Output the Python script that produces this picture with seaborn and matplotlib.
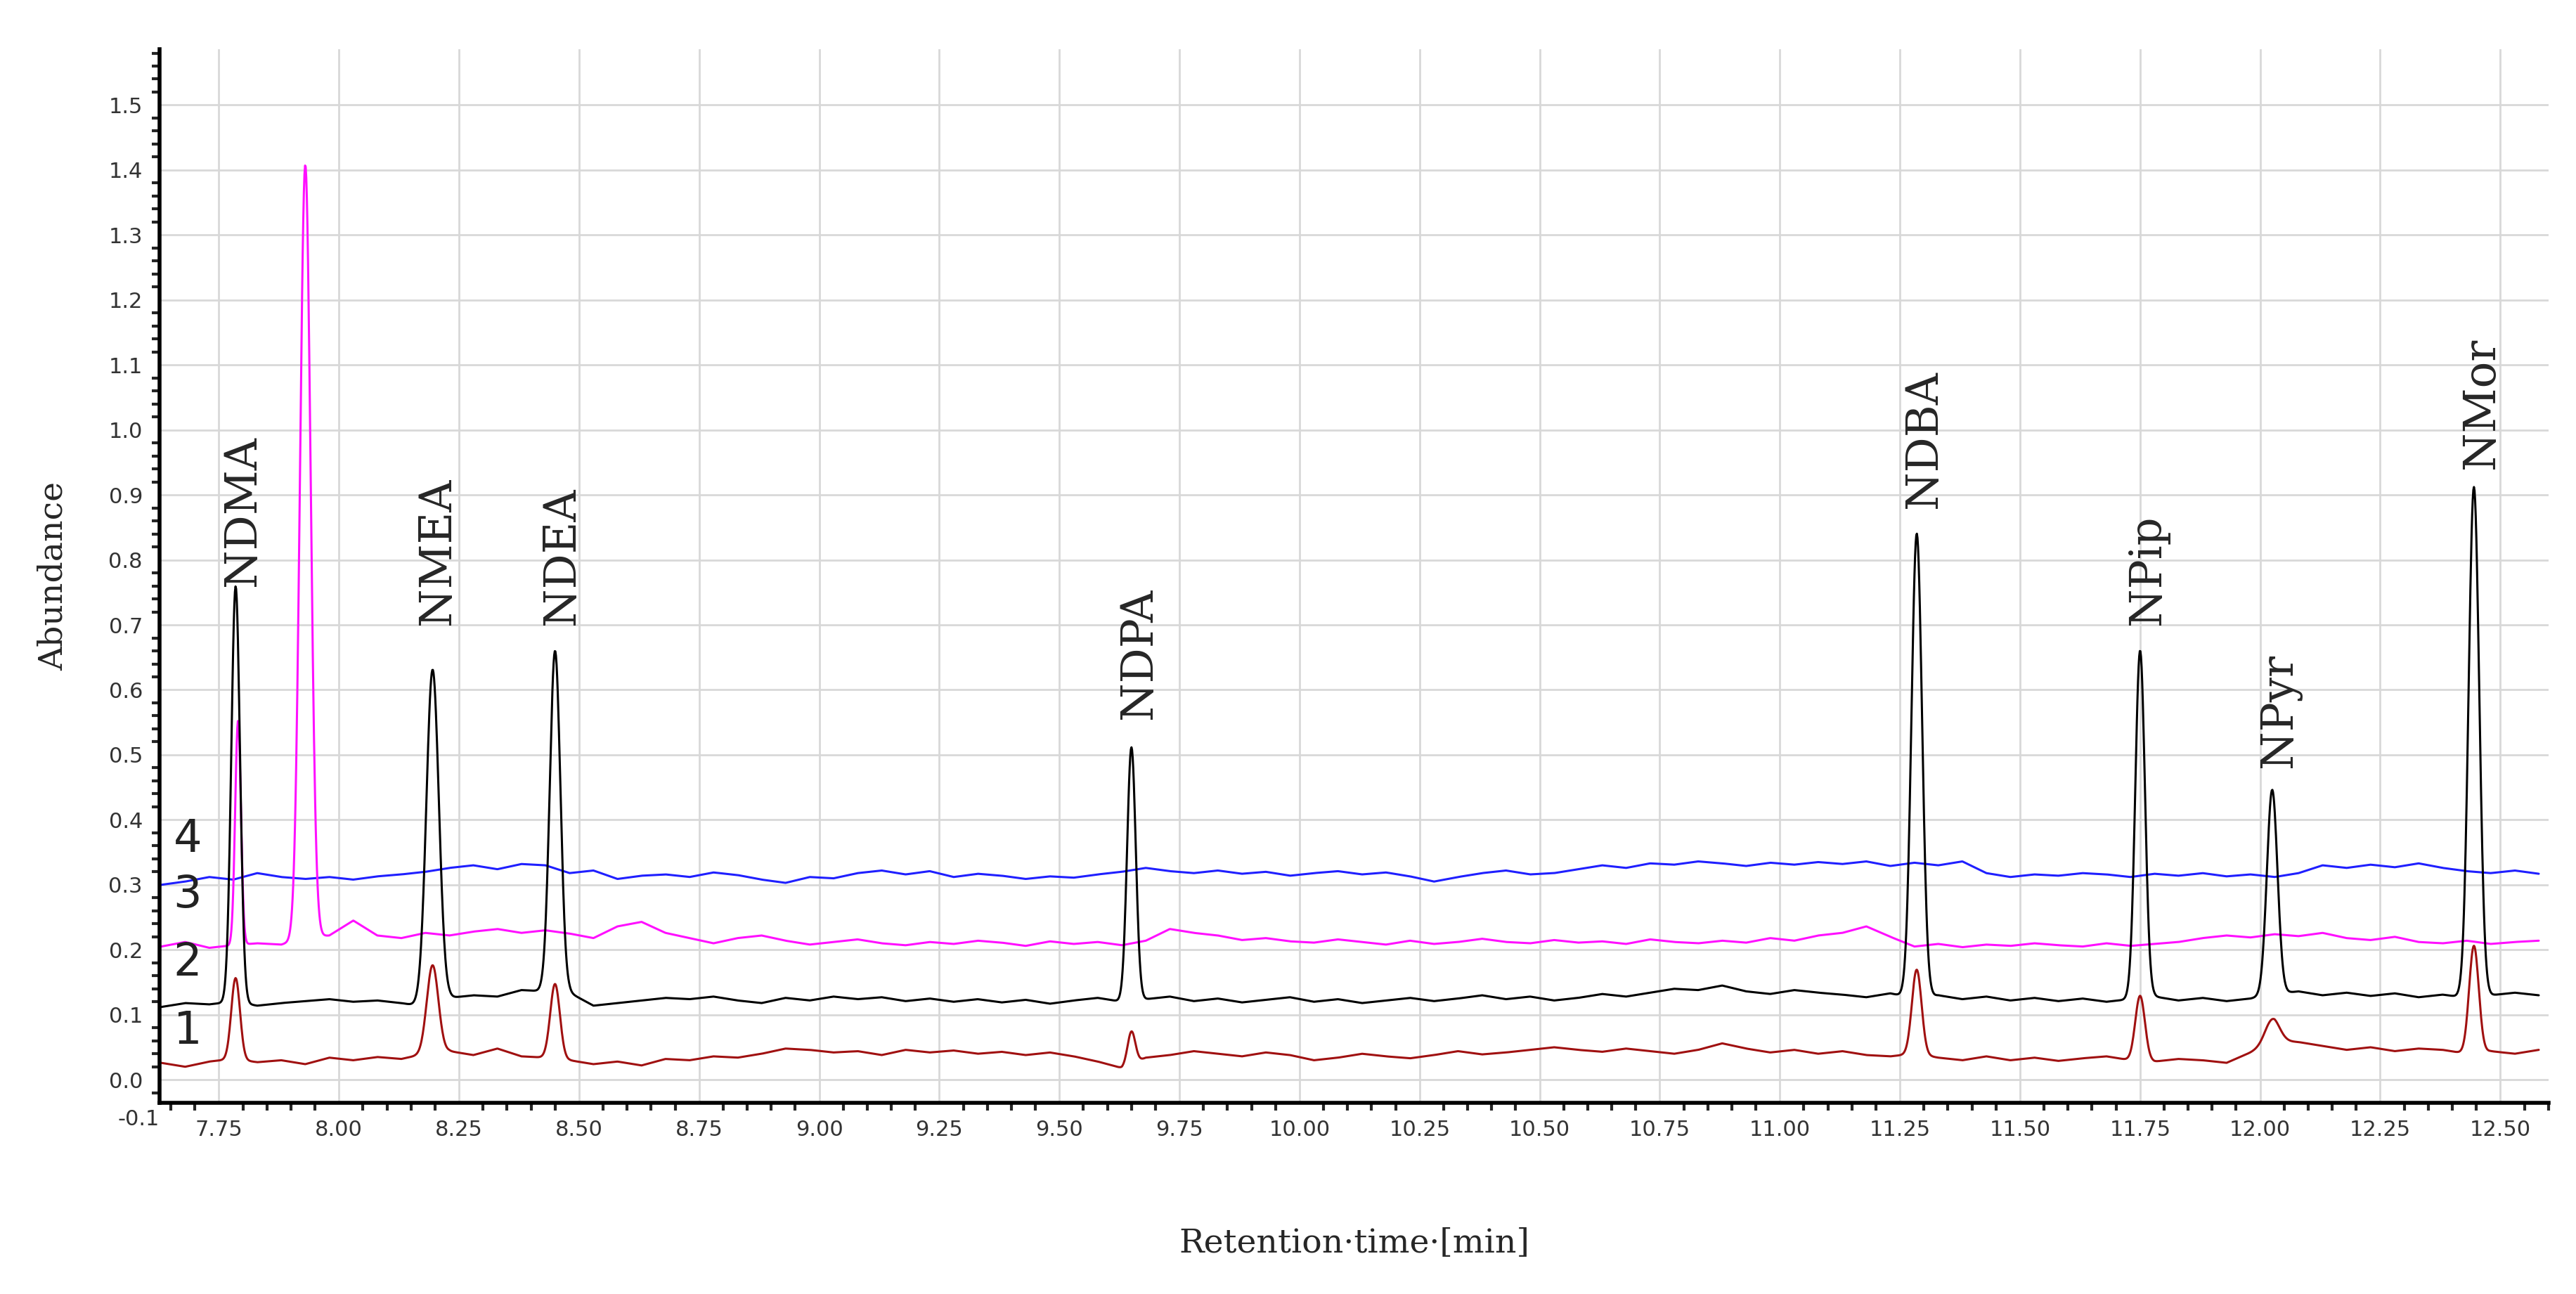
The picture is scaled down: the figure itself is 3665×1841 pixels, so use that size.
import numpy as np
import seaborn as sns
import matplotlib.pyplot as plt
from matplotlib.ticker import MultipleLocator

# baseline readings every 0.05 min from 7.63 to 12.58
base_x = np.round(np.arange(7.63, 12.581, 0.05), 2)
blue_base = [0.300, 0.305, 0.312, 0.308, 0.318, 0.312, 0.309, 0.312, 0.308, 0.313, 0.316, 0.320, 0.326, 0.330,
             0.324, 0.332, 0.330, 0.318, 0.322, 0.309, 0.314, 0.316, 0.312, 0.319, 0.315, 0.308, 0.303, 0.312,
             0.310, 0.318, 0.322, 0.316, 0.321, 0.312, 0.317, 0.314, 0.309, 0.313, 0.311, 0.316, 0.320, 0.326,
             0.321, 0.318, 0.322, 0.317, 0.320, 0.314, 0.318, 0.321, 0.316, 0.319, 0.313, 0.305, 0.312, 0.318,
             0.322, 0.316, 0.318, 0.324, 0.330, 0.326, 0.333, 0.331, 0.336, 0.333, 0.329, 0.334, 0.331, 0.335,
             0.332, 0.336, 0.329, 0.334, 0.330, 0.336, 0.318, 0.312, 0.316, 0.314, 0.318, 0.316, 0.312, 0.317,
             0.314, 0.318, 0.313, 0.316, 0.312, 0.318, 0.330, 0.326, 0.331, 0.327, 0.333, 0.326, 0.321, 0.318,
             0.322, 0.317]
magenta_base = [0.205, 0.212, 0.203, 0.207, 0.210, 0.208, 0.218, 0.222, 0.245, 0.222, 0.218, 0.226, 0.222, 0.228,
                0.232, 0.226, 0.230, 0.225, 0.218, 0.236, 0.243, 0.226, 0.218, 0.210, 0.218, 0.222, 0.214, 0.208,
                0.212, 0.216, 0.210, 0.207, 0.212, 0.209, 0.214, 0.211, 0.206, 0.213, 0.209, 0.212, 0.207, 0.214,
                0.232, 0.226, 0.222, 0.215, 0.218, 0.213, 0.211, 0.216, 0.212, 0.208, 0.214, 0.209, 0.212, 0.217,
                0.212, 0.210, 0.215, 0.211, 0.213, 0.209, 0.216, 0.212, 0.210, 0.214, 0.211, 0.218, 0.214, 0.222,
                0.226, 0.236, 0.220, 0.205, 0.209, 0.204, 0.208, 0.206, 0.210, 0.207, 0.205, 0.210, 0.206, 0.209,
                0.212, 0.218, 0.222, 0.219, 0.224, 0.221, 0.226, 0.218, 0.215, 0.220, 0.212, 0.210, 0.214, 0.209,
                0.212, 0.214]
black_base = [0.112, 0.118, 0.116, 0.120, 0.114, 0.118, 0.121, 0.124, 0.120, 0.122, 0.118, 0.112, 0.126, 0.130,
              0.128, 0.138, 0.136, 0.134, 0.114, 0.118, 0.122, 0.126, 0.124, 0.128, 0.122, 0.118, 0.126, 0.122,
              0.128, 0.124, 0.127, 0.121, 0.125, 0.120, 0.124, 0.119, 0.123, 0.117, 0.122, 0.126, 0.120, 0.124,
              0.128, 0.121, 0.125, 0.119, 0.123, 0.127, 0.120, 0.124, 0.118, 0.122, 0.126, 0.121, 0.125, 0.130,
              0.124, 0.128, 0.122, 0.126, 0.132, 0.128, 0.134, 0.140, 0.138, 0.145, 0.136, 0.132, 0.138, 0.134,
              0.131, 0.127, 0.133, 0.125, 0.130, 0.124, 0.128, 0.122, 0.126, 0.121, 0.125, 0.120, 0.124, 0.128,
              0.122, 0.126, 0.121, 0.125, 0.132, 0.136, 0.130, 0.134, 0.129, 0.133, 0.127, 0.131, 0.126, 0.130,
              0.134, 0.130]
red_base = [0.026, 0.020, 0.028, 0.032, 0.027, 0.030, 0.024, 0.034, 0.030, 0.035, 0.032, 0.040, 0.044, 0.038,
            0.048, 0.036, 0.034, 0.030, 0.024, 0.028, 0.022, 0.032, 0.030, 0.036, 0.034, 0.040, 0.048, 0.046,
            0.042, 0.044, 0.038, 0.046, 0.042, 0.045, 0.040, 0.043, 0.038, 0.042, 0.036, 0.028, 0.018, 0.034,
            0.038, 0.044, 0.040, 0.036, 0.042, 0.038, 0.030, 0.034, 0.040, 0.036, 0.033, 0.038, 0.044, 0.039,
            0.042, 0.046, 0.050, 0.046, 0.043, 0.048, 0.044, 0.040, 0.046, 0.056, 0.048, 0.042, 0.046, 0.040,
            0.044, 0.038, 0.036, 0.040, 0.034, 0.030, 0.036, 0.030, 0.034, 0.029, 0.033, 0.036, 0.030, 0.028,
            0.032, 0.030, 0.026, 0.042, 0.060, 0.058, 0.052, 0.046, 0.050, 0.044, 0.048, 0.046, 0.040, 0.044,
            0.040, 0.046]

# peaks: retention time, height above baseline, width (sigma)
black_peaks_t = [7.785, 8.195, 8.45, 9.65, 11.285, 11.75, 12.025, 12.445]
black_peaks_h = [0.64, 0.515, 0.525, 0.39, 0.715, 0.535, 0.315, 0.785]
black_peaks_w = [0.009, 0.013, 0.011, 0.009, 0.011, 0.010, 0.011, 0.011]
red_peaks_t = [7.785, 8.195, 8.45, 9.65, 11.285, 11.75, 12.025, 12.445]
red_peaks_h = [0.125, 0.135, 0.115, 0.05, 0.13, 0.10, 0.035, 0.165]
red_peaks_w = [0.009, 0.012, 0.010, 0.008, 0.010, 0.010, 0.015, 0.010]
magenta_peaks_t = [7.79, 7.93]
magenta_peaks_h = [0.345, 1.19]
magenta_peaks_w = [0.006, 0.011]

labels = ["NDMA", "NMEA", "NDEA", "NDPA", "NDBA", "NPip", "NPyr", "NMor"]
label_x = [7.80, 8.205, 8.465, 9.665, 11.30, 11.765, 12.04, 12.46]
label_y = [0.76, 0.70, 0.70, 0.555, 0.88, 0.70, 0.48, 0.94]

trace_names = ["4", "3", "2", "1"]
trace_name_y = [0.37, 0.285, 0.18, 0.075]


def build(base, pt, ph, pw):
    t = np.linspace(7.63, 12.58, 4000)
    y = np.interp(t, base_x, base)
    for c, h, w in zip(pt, ph, pw):
        y = y + h * np.exp(-0.5 * ((t - c) / w) ** 2)
    return t, y


sns.set_theme(style="white")
plt.rcParams["font.family"] = ["DejaVu Sans"]
fig, ax = plt.subplots(figsize=(36.66, 18.41), dpi=100)
fig.subplots_adjust(left=0.062, right=0.989, top=0.962, bottom=0.148)

for base, pt, ph, pw, col in [
    (blue_base, [], [], [], "#1f1fff"),
    (magenta_base, magenta_peaks_t, magenta_peaks_h, magenta_peaks_w, "#ff10ff"),
    (red_base, red_peaks_t, red_peaks_h, red_peaks_w, "#a01010"),
    (black_base, black_peaks_t, black_peaks_h, black_peaks_w, "black"),
]:
    t, y = build(base, pt, ph, pw)
    sns.lineplot(x=t, y=y, ax=ax, color=col, linewidth=2.2)

ax.set_xlim(7.627, 12.6)
ax.set_ylim(-0.035, 1.586)
ax.xaxis.set_minor_locator(MultipleLocator(0.05))
ax.yaxis.set_minor_locator(MultipleLocator(0.02))
ax.set_yticks(np.round(np.arange(0.0, 1.51, 0.1), 1))
ax.set_yticklabels([f"{v:.1f}" for v in np.arange(0.0, 1.51, 0.1)])
ax.set_xticks(np.arange(7.75, 12.51, 0.25))
ax.set_xticklabels([f"{v:.2f}" for v in np.arange(7.75, 12.51, 0.25)])
ax.grid(True, which="major", color="#d8d8d8", linewidth=2)
ax.tick_params(which="major", direction="out", length=14, width=3, labelsize=22, colors="black",
               labelcolor="#333333")
ax.tick_params(which="minor", direction="out", length=8, width=3, left=True, bottom=True)
for s in ["top", "right"]:
    ax.spines[s].set_visible(False)
for s in ["left", "bottom"]:
    ax.spines[s].set_linewidth(4)
    ax.spines[s].set_color("black")
ax.text(7.627, -0.045, "-0.1", ha="right", va="top", fontsize=22, color="#333333")

for lab, x, y in zip(labels, label_x, label_y):
    ax.text(x, y, lab, rotation=90, ha="center", va="bottom", fontsize=45, family="DejaVu Serif")
for n, y in zip(trace_names, trace_name_y):
    ax.text(7.685, y, n, ha="center", va="center", fontsize=46, color="#222222")

ax.set_xlabel("Retention·time·[min]", fontsize=34, family="DejaVu Serif", labelpad=90)
ax.set_ylabel("Abundance", fontsize=34, family="DejaVu Serif", labelpad=40)
fig.savefig("out.png", dpi=100)
